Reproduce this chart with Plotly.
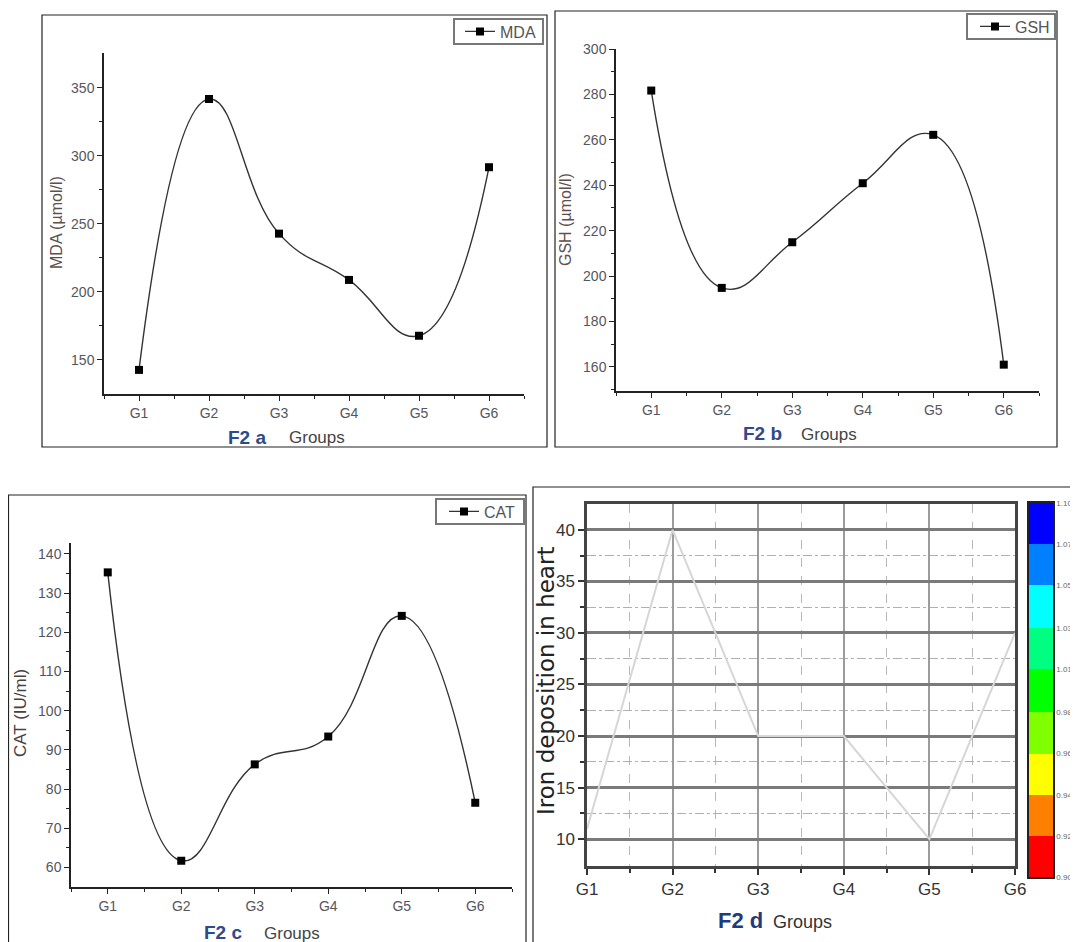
import plotly.graph_objects as go

# ---------------- data ----------------
groups = ["G1", "G2", "G3", "G4", "G5", "G6"]
group_pos = [1, 2, 3, 4, 5, 6]
mda = [142.7, 341.7, 242.8, 208.8, 167.8, 291.6]
gsh = [281.7, 194.8, 214.9, 240.9, 262.2, 161.0]
cat = [135.3, 61.7, 86.3, 93.4, 124.2, 76.5]
iron = [11, 40, 20, 20, 10, 30]
cb_edges = [0.900, 0.922, 0.944, 0.966, 0.988, 1.011, 1.033, 1.056, 1.078, 1.100]
cb_labels = ["0.900", "0.922", "0.944", "0.966", "0.988", "1.011", "1.033", "1.056", "1.078", "1.100"]
cb_colors = ["#ff0000", "#ff8000", "#ffff00", "#80ff00", "#00ff00",
             "#00ff80", "#00ffff", "#0080ff", "#0000ff"]

# page body has an 8px margin: figure sized so that it ends at the window edge
OFF = 8
W, H = 1078 - OFF, 942 - OFF
def X(px):
    return (px - OFF) / W
def Y(py):
    return 1 - (py - OFF) / H

fig = go.Figure()

line_style = dict(shape="spline", smoothing=1.3, color="#333333", width=1.4)
mk = dict(symbol="square", size=8, color="black")

fig.add_trace(go.Scatter(x=group_pos, y=mda, mode="lines+markers", name="MDA",
                         line=line_style, marker=mk, xaxis="x", yaxis="y", legend="legend"))
fig.add_trace(go.Scatter(x=group_pos, y=gsh, mode="lines+markers", name="GSH",
                         line=line_style, marker=mk, xaxis="x2", yaxis="y2", legend="legend2"))
fig.add_trace(go.Scatter(x=group_pos, y=cat, mode="lines+markers", name="CAT",
                         line=line_style, marker=mk, xaxis="x3", yaxis="y3", legend="legend3"))
fig.add_trace(go.Scatter(x=group_pos, y=iron, mode="lines", showlegend=False,
                         line=dict(color="#d6d6d6", width=2), xaxis="x4", yaxis="y4"))

# colour bar drawn as a one-column heatmap
fig.add_trace(go.Heatmap(x=[0], y=cb_edges, z=[[i] for i in range(len(cb_colors))],
                         colorscale=[[i / (len(cb_colors) - 1), c] for i, c in enumerate(cb_colors)],
                         zmin=0, zmax=len(cb_colors) - 1, showscale=False, hoverinfo="skip",
                         xaxis="x5", yaxis="y5"))

tickfont = dict(family="Liberation Sans, Arial", size=14, color="#55555f")
minor_x = [0.5, 1.5, 2.5, 3.5, 4.5, 5.5, 6.5]

def xa(domain, anchor):
    return dict(domain=domain, range=[0.5, 6.5], tickmode="array", tickvals=group_pos,
                ticktext=groups, showline=True, linecolor="#222", linewidth=1.5, anchor=anchor,
                ticks="outside", ticklen=5, tickwidth=1.3, tickcolor="#222",
                minor=dict(tickmode="array", tickvals=minor_x, ticks="outside", ticklen=3,
                           tickwidth=1, tickcolor="#222"),
                showgrid=False, zeroline=False, tickfont=tickfont, automargin=False)

def ya(domain, rng, tv, mv, anchor):
    return dict(domain=domain, range=rng, tickmode="array", tickvals=tv,
                showline=True, linecolor="#222", linewidth=1.5, anchor=anchor,
                ticks="outside", ticklen=5, tickwidth=1.3, tickcolor="#222",
                minor=dict(tickmode="array", tickvals=mv, ticks="outside", ticklen=3,
                           tickwidth=1, tickcolor="#222"),
                showgrid=False, zeroline=False, tickfont=tickfont, automargin=False)

xa1 = xa([X(104), X(524)], "y")
xa2 = xa([X(616), X(1039)], "y2")
xa3 = xa([X(71), X(512)], "y3")

ya1 = ya([Y(394), Y(53)], [125, 375.5], [150, 200, 250, 300, 350], [175, 225, 275, 325], "x")
ya2 = ya([Y(391), Y(49)], [149.4, 300], [160, 180, 200, 220, 240, 260, 280, 300],
         [150, 170, 190, 210, 230, 250, 270, 290], "x2")
ya3 = ya([Y(887), Y(543)], [55, 142.8], [60, 70, 80, 90, 100, 110, 120, 130, 140],
         [65, 75, 85, 95, 105, 115, 125, 135], "x3")

dfont = dict(family="Liberation Sans, Arial", size=17, color="#333")
xa4 = dict(domain=[X(587), X(1015)], range=[1, 6], anchor="y4", tickmode="array",
           tickvals=group_pos, ticktext=groups, showline=True, linecolor="#444", linewidth=2.5,
           mirror=True, ticks="outside", ticklen=6, tickwidth=2, tickcolor="#333",
           showgrid=True, gridcolor="#9c9c9c", gridwidth=2,
           minor=dict(tickmode="array", tickvals=[1.5, 2.5, 3.5, 4.5, 5.5], ticks="outside",
                      ticklen=4, tickwidth=1.5, tickcolor="#333", showgrid=True,
                      gridcolor="#b8b8b8", griddash="dash", gridwidth=1),
           zeroline=False, tickfont=dfont, automargin=False)
ya4 = dict(domain=[Y(866), Y(504)], range=[7.4, 42.5], anchor="x4", tickmode="array",
           tickvals=[10, 15, 20, 25, 30, 35, 40], showline=True, linecolor="#444",
           linewidth=2.5, mirror=True, ticks="outside", ticklen=6, tickwidth=2, tickcolor="#333",
           showgrid=True, gridcolor="#7a7a7a", gridwidth=2.5,
           minor=dict(tickmode="array", tickvals=[12.5, 17.5, 22.5, 27.5, 32.5, 37.5],
                      ticks="outside", ticklen=4, tickwidth=1.5, tickcolor="#333",
                      showgrid=True, gridcolor="#b0b0b0", griddash="dashdot", gridwidth=1.2),
           zeroline=False, tickfont=dfont, automargin=False)

xa5 = dict(domain=[X(1029), X(1053)], range=[-0.5, 0.5], anchor="y5", showticklabels=False,
           ticks="", showline=True, linecolor="#222", linewidth=1.5, mirror=True,
           showgrid=False, zeroline=False)
ya5 = dict(domain=[Y(877), Y(503)], range=[0.9, 1.1], anchor="x5", side="right",
           tickmode="array", tickvals=cb_edges, ticktext=cb_labels, ticks="",
           showline=True, linecolor="#222", linewidth=1.5, mirror=True, showgrid=False,
           zeroline=False, tickfont=dict(family="Liberation Sans, Arial", size=8, color="#666"),
           automargin=False)

legend_common = dict(xanchor="left", yanchor="middle", bgcolor="rgba(0,0,0,0)",
                     borderwidth=0, font=dict(family="Liberation Sans, Arial", size=16, color="#555"),
                     itemwidth=30, tracegroupgap=0)

ann = []
def txt(x, y, s, size, color, family="Liberation Sans, Arial", angle=0, xanchor="left"):
    ann.append(dict(x=X(x), y=Y(y), xref="paper", yref="paper", text=s, showarrow=False,
                    textangle=angle, xanchor=xanchor, yanchor="middle",
                    font=dict(family=family, size=size, color=color)))

blue = "#2d4a8c"
txt(57, 223, "MDA (µmol/l)", 16, "#5e504c", angle=-90, xanchor="center")
txt(226, 437, "<b>F2 a</b>", 19, blue)
txt(287, 438, "Groups", 17, "#444")
txt(566, 220, "GSH (µmol/l)", 16, "#5e504c", angle=-90, xanchor="center")
txt(741, 433, "<b>F2 b</b>", 19, blue)
txt(799, 434, "Groups", 17, "#444")
txt(20, 713, "CAT (IU/ml)", 17, "#4a4040", angle=-90, xanchor="center")
txt(202, 932, "<b>F2 c</b>", 19, blue)
txt(262, 933, "Groups", 17, "#444")
txt(546, 681, "Iron deposition in heart", 23, "#222", family="DejaVu Sans, Liberation Sans",
    angle=-90, xanchor="center")
txt(716, 920, "<b>F2 d</b>", 22, "#1e3c7c")
txt(771, 922, "Groups", 18, "#333")

shapes = []
for (x0, y0, x1, y1) in [(42, 15, 547, 447), (555, 11, 1057, 447),
                         (8.5, 495, 526, 960), (533, 487, 1100, 960)]:
    shapes.append(dict(type="rect", xref="paper", yref="paper", x0=X(x0), x1=X(x1),
                       y0=Y(y1), y1=Y(y0), line=dict(color="#222", width=1.2),
                       fillcolor="rgba(0,0,0,0)", layer="below"))
# legend frames
for (x0, y0, x1, y1) in [(454, 19, 543, 44), (967, 14, 1055, 39), (436, 499, 524, 524)]:
    shapes.append(dict(type="rect", xref="paper", yref="paper", x0=X(x0), x1=X(x1),
                       y0=Y(y1), y1=Y(y0), line=dict(color="#777", width=2),
                       fillcolor="white", layer="below"))

fig.update_layout(
    width=W, height=H, margin=dict(l=0, r=0, t=0, b=0),
    paper_bgcolor="white", plot_bgcolor="rgba(0,0,0,0)", showlegend=True,
    xaxis=xa1, yaxis=ya1, xaxis2=xa2, yaxis2=ya2, xaxis3=xa3, yaxis3=ya3,
    xaxis4=xa4, yaxis4=ya4, xaxis5=xa5, yaxis5=ya5,
    legend=dict(x=X(460), y=Y(31.5), **legend_common),
    legend2=dict(x=X(975), y=Y(26.5), **legend_common),
    legend3=dict(x=X(444), y=Y(511.5), **legend_common),
    annotations=ann, shapes=shapes,
)

fig.write_html("out.html")
